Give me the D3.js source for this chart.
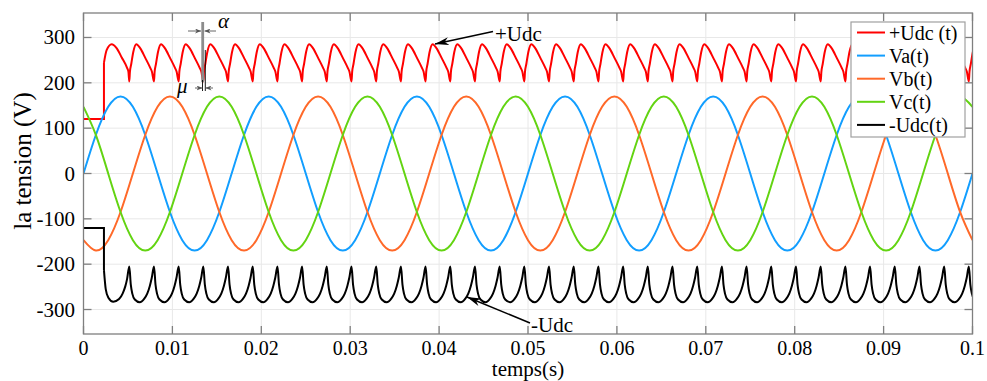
<!DOCTYPE html>
<html><head><meta charset="utf-8">
<script src="https://cdn.jsdelivr.net/npm/d3@7"></script>
<style>body{margin:0;background:#fff;} text{font-family:"Liberation Serif","Times New Roman",serif;fill:#000;}</style>
</head><body><svg id="chart" width="987" height="381"></svg>
<script>
// ---------- data ----------
const xTicks = [0,0.01,0.02,0.03,0.04,0.05,0.06,0.07,0.08,0.09,0.1];
const xTickLabels = ["0","0.01","0.02","0.03","0.04","0.05","0.06","0.07","0.08","0.09","0.1"];
const yTicks = [-300,-200,-100,0,100,200,300];
const yTickLabels = ["-300","-200","-100","0","100","200","300"];
const seriesNames = ["+Udc (t)","Va(t)","Vb(t)","Vc(t)","-Udc(t)"];
const seriesColors = ["#ff0000","#129eff","#ff6929","#63d412","#000000"];

// phase voltages sampled every 1/720 s
const tSine = [0,0.001389,0.002778,0.004167,0.005556,0.006944,0.008333,0.009722,0.011111,0.0125,0.013889,0.015278,
0.016667,0.018056,0.019444,0.020833,0.022222,0.023611,0.025,0.026389,0.027778,0.029167,0.030556,0.031944,
0.033333,0.034722,0.036111,0.0375,0.038889,0.040278,0.041667,0.043056,0.044444,0.045833,0.047222,0.048611,
0.05,0.051389,0.052778,0.054167,0.055556,0.056944,0.058333,0.059722,0.061111,0.0625,0.063889,0.065278,
0.066667,0.068056,0.069444,0.070833,0.072222,0.073611,0.075,0.076389,0.077778,0.079167,0.080556,0.081944,
0.083333,0.084722,0.086111,0.0875,0.088889,0.090278,0.091667,0.093056,0.094444,0.095833,0.097222,0.098611,0.1];
const Va = [0,85,147,170,147,85,0,-85,-147,-170,-147,-85,
0,85,147,170,147,85,0,-85,-147,-170,-147,-85,
0,85,147,170,147,85,0,-85,-147,-170,-147,-85,
0,85,147,170,147,85,0,-85,-147,-170,-147,-85,
0,85,147,170,147,85,0,-85,-147,-170,-147,-85,
0,85,147,170,147,85,0,-85,-147,-170,-147,-85,0];
const Vb = [-147,-170,-147,-85,0,85,147,170,147,85,0,-85,
-147,-170,-147,-85,0,85,147,170,147,85,0,-85,
-147,-170,-147,-85,0,85,147,170,147,85,0,-85,
-147,-170,-147,-85,0,85,147,170,147,85,0,-85,
-147,-170,-147,-85,0,85,147,170,147,85,0,-85,
-147,-170,-147,-85,0,85,147,170,147,85,0,-85,-147];
const Vc = [147,85,0,-85,-147,-170,-147,-85,0,85,147,170,
147,85,0,-85,-147,-170,-147,-85,0,85,147,170,
147,85,0,-85,-147,-170,-147,-85,0,85,147,170,
147,85,0,-85,-147,-170,-147,-85,0,85,147,170,
147,85,0,-85,-147,-170,-147,-85,0,85,147,170,
147,85,0,-85,-147,-170,-147,-85,0,85,147,170,147];

// DC bus: initial step
const stepT = [0,0.0023];
const stepPos = [120,120];
const stepNeg = [-120,-120];
// first arch after the step
const firstPosT = [0.0023,0.0026,0.00317,0.0037,0.0043,0.0049,0.00505];
const firstPosV = [244,272,285,277,256,233,225];
const firstNegT = [0.0023,0.0025,0.0028,0.00335,0.0040,0.0044,0.0047,0.0049];
const firstNegV = [-213,-255,-274,-283,-277,-265,-249,-233];
// commutation instants (dips of +Udc / tips of -Udc)
const dipTimes = [0.00515,0.00793,0.01071,0.01348,0.01626,0.01904,0.02182,0.02459,0.02737,0.03015,
0.03293,0.03571,0.03848,0.04126,0.04404,0.04682,0.04959,0.05237,0.05515,0.05793,0.06071,0.06348,
0.06626,0.06904,0.07182,0.07459,0.07737,0.08015,0.08293,0.08571,0.08848,0.09126,0.09404,0.09682,0.09959];
// shape of one pulse (offset after dip, value)
const posPulseOff = [0,0.00007,0.000225,0.00045,0.00079,0.00124,0.0018,0.00236,0.00254];
const posPulseV   = [203,224,242,268,285,276,255,233,225];
const negPulseOff = [0,0.00017,0.00034,0.00062,0.00118,0.00169,0.00202,0.00231,0.00253];
const negPulseV   = [-205,-245,-265,-278,-284,-276,-265,-248,-230];

// ---------- drawing ----------
const svg = d3.select('#chart');
const X0=83.5, X1=972.5, Y0=13, Y1=334;
const x = d3.scaleLinear().domain([0,0.1]).range([X0,X1]);
const y = d3.scaleLinear().domain([-354,354]).range([Y1,Y0]);
const defs = svg.append('defs');
defs.append('clipPath').attr('id','clip').append('rect')
  .attr('x',X0).attr('y',Y0).attr('width',X1-X0).attr('height',Y1-Y0);
function marker(id,color,len,wid){
  defs.append('marker').attr('id',id).attr('viewBox',`0 0 ${len} ${wid}`)
   .attr('refX',len).attr('refY',wid/2).attr('markerWidth',len).attr('markerHeight',wid)
   .attr('markerUnits','userSpaceOnUse').attr('orient','auto')
   .append('path').attr('d',`M0,0L${len},${wid/2}L0,${wid}L${len*0.3},${wid/2}Z`).attr('fill',color);
}
marker('ah','#000',14,8);
marker('ahs','#555',6,5);

// grid
const g = svg.append('g');
g.selectAll('.gx').data(xTicks).join('line')
  .attr('x1',d=>x(d)).attr('x2',d=>x(d)).attr('y1',Y0).attr('y2',Y1)
  .attr('stroke','#e8e8e8').attr('stroke-width',1);
g.selectAll('.gy').data(yTicks).join('line')
  .attr('y1',d=>y(d)).attr('y2',d=>y(d)).attr('x1',X0).attr('x2',X1)
  .attr('stroke','#e8e8e8').attr('stroke-width',1);

// series
const plot = svg.append('g').attr('clip-path','url(#clip)');
const lin = d3.line().x(d=>x(d[0])).y(d=>y(d[1]));
const smooth = d3.line().x(d=>x(d[0])).y(d=>y(d[1])).curve(d3.curveMonotoneX);
const nat = d3.line().x(d=>x(d[0])).y(d=>y(d[1])).curve(d3.curveNatural);
function pulses(firstT,firstV,off,val){
  const pts = firstT.map((t,i)=>[t,firstV[i]]);
  dipTimes.forEach(d=>off.forEach((o,i)=>pts.push([d+o,val[i]])));
  return pts;
}
function drawUdc(stepV,firstT,firstV,off,val,color){
  const stepPts = stepT.map((t,i)=>[t,stepV[i]]); stepPts.push([firstT[0],firstV[0]]);
  plot.append('path').attr('d',lin(stepPts)).attr('fill','none').attr('stroke',color).attr('stroke-width',2);
  plot.append('path').attr('d',smooth(pulses(firstT,firstV,off,val))).attr('fill','none')
    .attr('stroke',color).attr('stroke-width',2).attr('stroke-linejoin','round');
}
drawUdc(stepPos,firstPosT,firstPosV,posPulseOff,posPulseV,seriesColors[0]);
[Va,Vb,Vc].forEach((arr,k)=>{
  plot.append('path').attr('d',nat(tSine.map((t,i)=>[t,arr[i]]))).attr('fill','none')
    .attr('stroke',seriesColors[k+1]).attr('stroke-width',2);
});
drawUdc(stepNeg,firstNegT,firstNegV,negPulseOff,negPulseV,seriesColors[4]);

// axes box and ticks
const ax = svg.append('g').attr('stroke','#7f7f7f').attr('stroke-width',1.3);
ax.append('rect').attr('x',X0).attr('y',Y0).attr('width',X1-X0).attr('height',Y1-Y0).attr('fill','none');
xTicks.forEach(v=>{
  ax.append('line').attr('x1',x(v)).attr('x2',x(v)).attr('y1',Y1).attr('y2',Y1-8);
  ax.append('line').attr('x1',x(v)).attr('x2',x(v)).attr('y1',Y0).attr('y2',Y0+8);
});
yTicks.forEach(v=>{
  ax.append('line').attr('y1',y(v)).attr('y2',y(v)).attr('x1',X0).attr('x2',X0+8);
  ax.append('line').attr('y1',y(v)).attr('y2',y(v)).attr('x1',X1).attr('x2',X1-8);
});
svg.selectAll('.xl').data(xTicks).join('text')
  .attr('x',d=>x(d)).attr('y',355).attr('text-anchor','middle').attr('font-size',20)
  .text((d,i)=>xTickLabels[i]);
svg.selectAll('.yl').data(yTicks).join('text')
  .attr('x',75).attr('y',d=>y(d)+7).attr('text-anchor','end').attr('font-size',21)
  .text((d,i)=>yTickLabels[i]);
svg.append('text').attr('x',(X0+X1)/2).attr('y',376).attr('text-anchor','middle').attr('font-size',21).text('temps(s)');
svg.append('text').attr('transform',`translate(31,161) rotate(-90)`).attr('text-anchor','middle')
  .attr('font-size',25).text('la tension (V)');

// legend
const lg = svg.append('g');
lg.append('rect').attr('x',851).attr('y',22).attr('width',114).attr('height',115)
  .attr('fill','#fff').attr('stroke','#a0a0a0').attr('stroke-width',1.2);
seriesNames.forEach((n,i)=>{
  const yy = 32.5 + i*23.1;
  lg.append('line').attr('x1',857).attr('x2',885).attr('y1',yy).attr('y2',yy)
    .attr('stroke',seriesColors[i]).attr('stroke-width',2);
  lg.append('text').attr('x',889).attr('y',yy+7).attr('font-size',20).text(n);
});

// annotations
const an = svg.append('g');
an.append('line').attr('x1',493).attr('y1',31.5).attr('x2',435).attr('y2',44)
  .attr('stroke','#000').attr('stroke-width',1.5).attr('marker-end','url(#ah)');
an.append('text').attr('x',495).attr('y',41).attr('font-size',21).text('+Udc');
an.append('line').attr('x1',530).attr('y1',323).attr('x2',467).attr('y2',297)
  .attr('stroke','#000').attr('stroke-width',1.5).attr('marker-end','url(#ah)');
an.append('text').attr('x',531).attr('y',332).attr('font-size',21).text('-Udc');
// alpha / mu markers
an.append('rect').attr('x',201.3).attr('y',22).attr('width',2.8).attr('height',60).attr('fill','#8c8c8c');
an.append('line').attr('x1',205.3).attr('x2',205.3).attr('y1',50).attr('y2',91).attr('stroke','#000').attr('stroke-width',0.9);
an.append('line').attr('x1',202.5).attr('x2',202.5).attr('y1',80).attr('y2',91).attr('stroke','#000').attr('stroke-width',0.9);
an.append('line').attr('x1',188).attr('x2',201).attr('y1',31).attr('y2',31).attr('stroke','#555').attr('stroke-width',0.9).attr('marker-end','url(#ahs)');
an.append('line').attr('x1',216).attr('x2',204.5).attr('y1',31).attr('y2',31).attr('stroke','#555').attr('stroke-width',0.9).attr('marker-end','url(#ahs)');
an.append('line').attr('x1',195).attr('x2',202.5).attr('y1',88).attr('y2',88).attr('stroke','#555').attr('stroke-width',0.9).attr('marker-end','url(#ahs)');
an.append('line').attr('x1',213).attr('x2',205.5).attr('y1',88).attr('y2',88).attr('stroke','#555').attr('stroke-width',0.9).attr('marker-end','url(#ahs)');
an.append('text').attr('x',218).attr('y',28).attr('font-size',21).attr('font-style','italic').text('α');
an.append('text').attr('x',177).attr('y',93).attr('font-size',21).attr('font-style','italic').text('μ');
</script></body></html>
